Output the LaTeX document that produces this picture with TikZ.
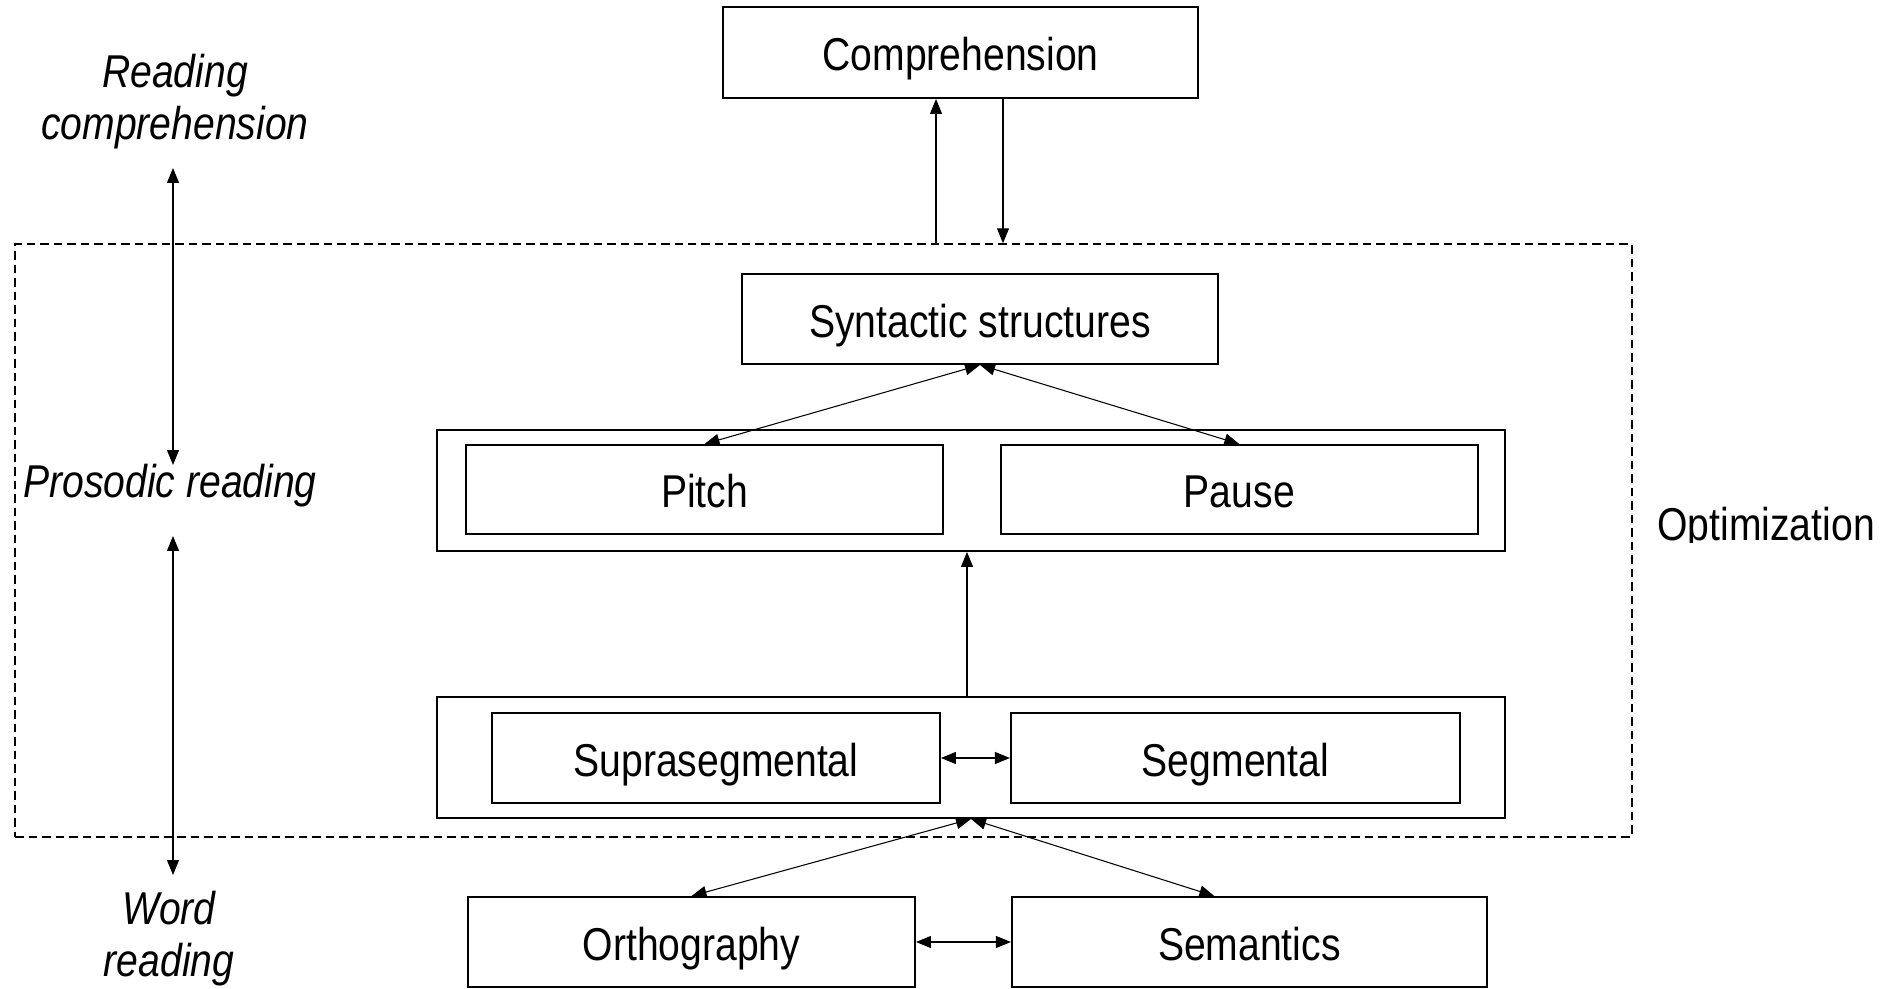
\documentclass[tikz,border=0pt]{standalone}
\usepackage{fontspec}
\setmainfont[FakeStretch=0.85]{Liberation Sans}
\usepackage{tikz}
\usetikzlibrary{arrows.meta, positioning, calc}

\begin{document}
\begin{tikzpicture}[x=0.02cm, y=-0.02cm, node distance=1.12cm,
		font=\fontsize{26.2}{29.6}\selectfont,
		box/.style={draw, line width=1.1pt, minimum height=1.8cm, inner sep=0pt, text height=0.9cm, text depth=0.16cm},
		outerbox/.style={draw, line width=1.1pt, minimum width=21.36cm, minimum height=2.42cm, inner sep=0pt},
		dashbox/.style={draw, line width=0.9pt, dash pattern=on 0.17cm off 0.1cm, minimum width=32.34cm, minimum height=11.86cm},
		side/.style={font=\fontsize{26.2}{29.6}\selectfont\itshape, align=center, inner sep=0pt},
		arr/.style={line width=0.6pt, -{Triangle[length=0.3cm,width=0.24cm]}},
		both/.style={line width=0.6pt, {Triangle[length=0.3cm,width=0.24cm]}-{Triangle[length=0.3cm,width=0.24cm]}}]
	\useasboundingbox (0,0) rectangle (1895,989);

	\node[dashbox] (opt) at (823.5,540.5) {};
	\begin{scope}
		\clip (1640,480) rectangle (1895,542);
		\node[anchor=base west, inner sep=0pt] (optlbl) at (1657,540) {Optimization};
	\end{scope}

	\node[box, minimum width=9.5cm, minimum height=1.82cm] (comp) at (960.5,52.5) {Comprehension};
	\node[box, minimum width=9.52cm] (syn) at (980,319) {Syntactic structures};

	\node[outerbox] (pp) at (971,490.5) {};
	\node[box, minimum width=9.54cm, minimum height=1.78cm] (pitch) at (704.5,489.5) {Pitch};
	\node[box, minimum width=9.54cm, minimum height=1.78cm, right=of pitch] (pause) {Pause};

	\node[outerbox] (ss) at (971,757.5) {};
	\node[box, minimum width=8.96cm] (supra) at (716,758) {Suprasegmental};
	\node[box, minimum width=8.98cm, right=1.38cm of supra] (seg) {Segmental};

	\node[box, minimum width=8.94cm] (orth) at (691.5,942) {Orthography};
	\node[box, minimum width=9.5cm, right=1.9cm of orth] (sem) {Semantics};

	\node[side, anchor=base] (rc) at (175,140) {Reading\\comprehension};
	\node[side, anchor=base] (pr) at (170,497) {Prosodic reading};
	\node[side, anchor=base] (wr) at (169,976) {Word\\reading};
	\coordinate (rc1) at (173,168);
	\coordinate (pr1) at (173,465);
	\coordinate (pr2) at (173,536);
	\coordinate (wr1) at (173,875);

	\draw[arr] ([xshift=-0.49cm]comp.south |- opt.north) -- ([xshift=-0.49cm]comp.south);
	\draw[arr] ([xshift=0.85cm]comp.south) -- ([xshift=0.85cm]comp.south |- opt.north);
	\foreach \to in {pitch,pause}
		\draw[both] (syn.south) -- (\to.north);
	\draw[arr] ([xshift=-0.08cm]ss.north) -- ([xshift=-0.08cm]pp.south);
	\draw[both] (supra) -- (seg);
	\draw[both] (ss.south) -- (orth.north);
	\draw[both] (ss.south) -- ([xshift=-0.7cm]sem.north);
	\draw[both] (orth) -- (sem);
	\draw[both] (rc1) -- (pr1);
	\draw[both] (pr2) -- (wr1);
\end{tikzpicture}
\end{document}
